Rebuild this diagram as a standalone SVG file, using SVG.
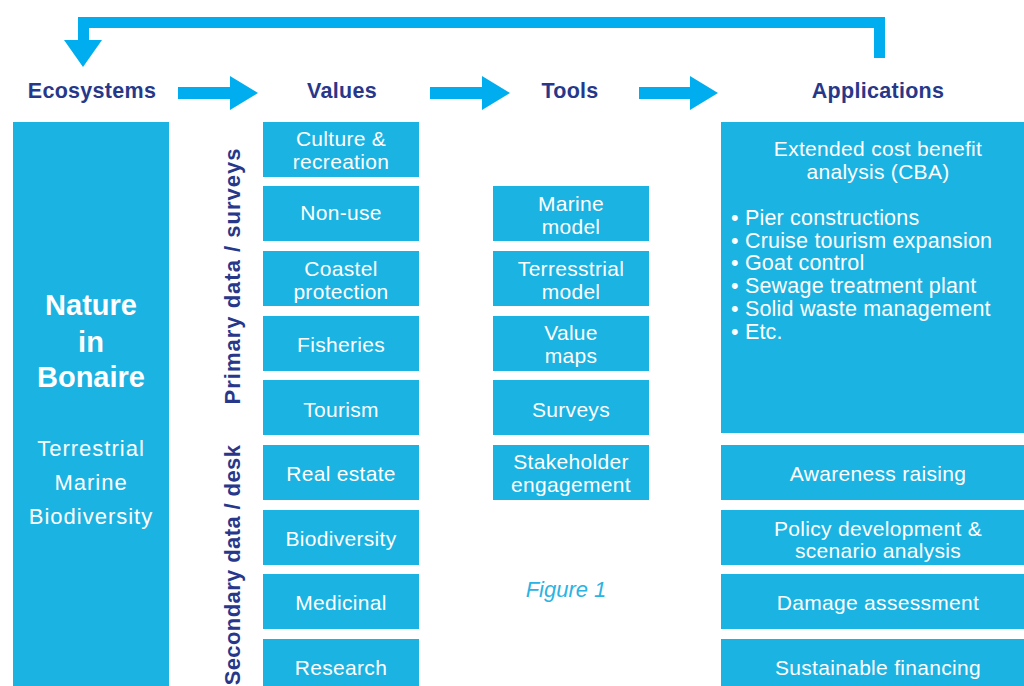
<svg xmlns="http://www.w3.org/2000/svg" width="1024" height="686" viewBox="0 0 1024 686">
<style>
.box{fill:#1bb3e2}
.arrow{fill:#00aeef}
.t{font-family:"Liberation Sans",Arial,sans-serif;font-size:21px;letter-spacing:0.3px;fill:#ffffff;text-anchor:middle}
.h{font-family:"Liberation Sans",Arial,sans-serif;font-size:21.5px;font-weight:bold;letter-spacing:0.3px;fill:#27388a;text-anchor:middle}
.side{font-family:"Liberation Sans",Arial,sans-serif;font-size:22px;font-weight:bold;letter-spacing:1px;fill:#27388a;text-anchor:middle;dominant-baseline:central}
.b{font-family:"Liberation Sans",Arial,sans-serif;font-size:21.5px;letter-spacing:0.2px;fill:#ffffff}
</style>
<rect width="1024" height="686" fill="#ffffff"/>
<g id="connectors">
<path class="arrow" d="M874,58 L885,58 L885,17 L78,17 L78,40 L64,40 L83,67 L102,40 L89,40 L89,28 L874,28 Z"/>
<path class="arrow" d="M178,87 L230,87 L230,76 L258,93 L230,110 L230,99 L178,99 Z"/>
<path class="arrow" d="M430,87 L482,87 L482,76 L510,93 L482,110 L482,99 L430,99 Z"/>
<path class="arrow" d="M639,87 L690,87 L690,76 L718,93 L690,110 L690,99 L639,99 Z"/>
</g>
<g id="headers">
<text class="h" x="92" y="98">Ecosystems</text>
<text class="h" x="342" y="98">Values</text>
<text class="h" x="570" y="98">Tools</text>
<text class="h" x="878" y="98">Applications</text>
</g>
<g id="ecosystems">
<rect class="box" x="13" y="122" width="156" height="564"/>
<text class="t" x="91" y="315" style="font-size:29px;font-weight:bold;letter-spacing:0">Nature</text>
<text class="t" x="91" y="352" style="font-size:29px;font-weight:bold;letter-spacing:0">in</text>
<text class="t" x="91" y="387" style="font-size:29px;font-weight:bold;letter-spacing:0">Bonaire</text>
<text class="t" x="91" y="456" style="font-size:22px;letter-spacing:1px">Terrestrial</text>
<text class="t" x="91" y="490" style="font-size:22px;letter-spacing:1px">Marine</text>
<text class="t" x="91" y="524" style="font-size:22px;letter-spacing:1px">Biodiversity</text>
</g>
<g id="side-labels">
<text class="side" transform="translate(232,276) rotate(-90)">Primary data / surveys</text>
<text class="side" style="letter-spacing:0.4px" transform="translate(232,565) rotate(-90)">Secondary data / desk</text>
</g>
<g id="v-culture"><rect class="box" x="263" y="122" width="156" height="55"/><text class="t" x="341" y="146">Culture &amp;</text><text class="t" x="341" y="169">recreation</text></g>
<g id="v-nonuse"><rect class="box" x="263" y="186" width="156" height="55"/><text class="t" x="341" y="220">Non-use</text></g>
<g id="v-coastel"><rect class="box" x="263" y="251" width="156" height="55"/><text class="t" x="341" y="276">Coastel</text><text class="t" x="341" y="299">protection</text></g>
<g id="v-fisheries"><rect class="box" x="263" y="316" width="156" height="55"/><text class="t" x="341" y="352">Fisheries</text></g>
<g id="v-tourism"><rect class="box" x="263" y="380" width="156" height="55"/><text class="t" x="341" y="417">Tourism</text></g>
<g id="v-realestate"><rect class="box" x="263" y="445" width="156" height="55"/><text class="t" x="341" y="481">Real estate</text></g>
<g id="v-biodiversity"><rect class="box" x="263" y="510" width="156" height="55"/><text class="t" x="341" y="546">Biodiversity</text></g>
<g id="v-medicinal"><rect class="box" x="263" y="574" width="156" height="55"/><text class="t" x="341" y="610">Medicinal</text></g>
<g id="v-research"><rect class="box" x="263" y="639" width="156" height="55"/><text class="t" x="341" y="675">Research</text></g>
<g id="t-marine"><rect class="box" x="493" y="186" width="156" height="55"/><text class="t" x="571" y="211">Marine</text><text class="t" x="571" y="234">model</text></g>
<g id="t-terrestrial"><rect class="box" x="493" y="251" width="156" height="55"/><text class="t" x="571" y="276">Terresstrial</text><text class="t" x="571" y="299">model</text></g>
<g id="t-valuemaps"><rect class="box" x="493" y="316" width="156" height="55"/><text class="t" x="571" y="340">Value</text><text class="t" x="571" y="363">maps</text></g>
<g id="t-surveys"><rect class="box" x="493" y="380" width="156" height="55"/><text class="t" x="571" y="417">Surveys</text></g>
<g id="t-stakeholder"><rect class="box" x="493" y="445" width="156" height="55"/><text class="t" x="571" y="469">Stakeholder</text><text class="t" x="571" y="492">engagement</text></g>
<g id="a-cba"><rect class="box" x="721" y="122" width="303" height="311"/>
<text class="t" x="878" y="156">Extended cost benefit</text>
<text class="t" x="878" y="179">analysis (CBA)</text>
<text class="b" x="731" y="225">• Pier constructions</text>
<text class="b" x="731" y="248">• Cruise tourism expansion</text>
<text class="b" x="731" y="270">• Goat control</text>
<text class="b" x="731" y="293">• Sewage treatment plant</text>
<text class="b" x="731" y="316">• Solid waste management</text>
<text class="b" x="731" y="339">• Etc.</text>
</g>
<g id="a-awareness"><rect class="box" x="721" y="445" width="303" height="55"/><text class="t" x="878" y="481">Awareness raising</text></g>
<g id="a-policy"><rect class="box" x="721" y="510" width="303" height="55"/><text class="t" x="878" y="536">Policy development &amp;</text><text class="t" x="878" y="558">scenario analysis</text></g>
<g id="a-damage"><rect class="box" x="721" y="574" width="303" height="55"/><text class="t" x="878" y="610">Damage assessment</text></g>
<g id="a-financing"><rect class="box" x="721" y="639" width="303" height="55"/><text class="t" x="878" y="675">Sustainable financing</text></g>
<text x="566" y="597" style="font-family:'Liberation Sans',Arial,sans-serif;font-size:22px;font-style:italic;fill:#2bb3e3;text-anchor:middle">Figure 1</text>
</svg>
